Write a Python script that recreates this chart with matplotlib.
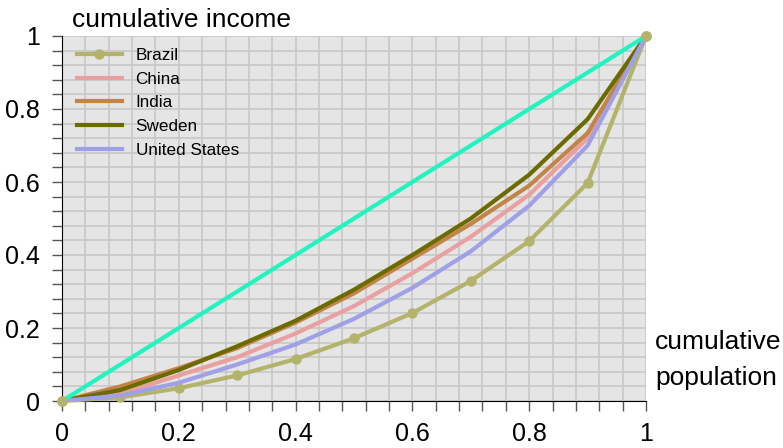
import numpy as np
import matplotlib.pyplot as plt
from matplotlib.ticker import MultipleLocator, FuncFormatter

plt.rcParams['font.family'] = ['Liberation Sans', 'DejaVu Sans']

# cumulative population share
pop = [0, 0.1, 0.2, 0.3, 0.4, 0.5, 0.6, 0.7, 0.8, 0.9, 1.0]

# cumulative income share per country
brazil = [0, 0.01, 0.035, 0.07, 0.115, 0.172, 0.241, 0.329, 0.438, 0.597, 1.0]
china = [0, 0.02, 0.07, 0.12, 0.185, 0.26, 0.35, 0.45, 0.565, 0.72, 1.0]
india = [0, 0.04, 0.09, 0.145, 0.215, 0.295, 0.39, 0.485, 0.59, 0.734, 1.0]
sweden = [0, 0.03, 0.085, 0.15, 0.22, 0.305, 0.40, 0.50, 0.62, 0.772, 1.0]
usa = [0, 0.015, 0.05, 0.10, 0.155, 0.225, 0.31, 0.41, 0.535, 0.70, 1.0]

equality = [0, 1]

W, H = 783, 448
fig = plt.figure(figsize=(W / 100, H / 100), dpi=100)
ax = fig.add_axes([62 / W, 47 / H, 584 / W, 365 / H])
ax.set_facecolor('#e5e5e5')

ax.plot(pop, brazil, color='#b3b36b', lw=3, marker='o', ms=6.5, label='Brazil', clip_on=False, zorder=3)
ax.plot(pop, china, color='#e8a0a0', lw=3, label='China', zorder=3)
ax.plot(pop, india, color='#c3844a', lw=3, label='India', zorder=3)
ax.plot(pop, sweden, color='#6b6b00', lw=3, label='Sweden', zorder=3)
ax.plot(pop, usa, color='#a0a0e8', lw=3, label='United States', zorder=3)
ax.plot(equality, equality, color='#20f5c0', lw=3, zorder=3, clip_on=False)
# brazil end points sit on top of the other lines
ax.plot([pop[0], pop[-1]], [brazil[0], brazil[-1]], ls='none', marker='o', ms=6.5,
        color='#b3b36b', clip_on=False, zorder=4)

ax.set_xlim(0, 1)
ax.set_ylim(0, 1)
ax.xaxis.set_major_locator(MultipleLocator(0.2))
ax.yaxis.set_major_locator(MultipleLocator(0.2))
ax.xaxis.set_minor_locator(MultipleLocator(0.04))
ax.yaxis.set_minor_locator(MultipleLocator(0.04))
fmt = FuncFormatter(lambda v, p: '%g' % round(v, 2))
ax.xaxis.set_major_formatter(fmt)
ax.yaxis.set_major_formatter(fmt)
ax.grid(which='both', color='#c8c8c8', lw=1.2)
ax.set_axisbelow(True)
ax.tick_params(which='both', direction='out', length=7, width=1, color='#555555', labelsize=18)
ax.tick_params(axis='x', pad=8)
ax.tick_params(axis='y', pad=9)
for s in ['top', 'right']:
    ax.spines[s].set_visible(False)
for s in ['left', 'bottom']:
    ax.spines[s].set_color('black')

fig.text(72 / W, 1 - 27 / H, 'cumulative income', fontsize=19, va='baseline')
fig.text(655 / W, 1 - 349 / H, 'cumulative', fontsize=19, va='baseline')
fig.text(655 / W, 1 - 385 / H, 'population', fontsize=19, va='baseline')

ax.legend(loc='upper left', frameon=False, fontsize=12.3, handlelength=2.63, handletextpad=0.8,
          borderaxespad=0, borderpad=0, labelspacing=0.51,
          bbox_to_anchor=(77 / W, 1 - 48 / H), bbox_transform=fig.transFigure)

fig.savefig('out.png', dpi=100)
